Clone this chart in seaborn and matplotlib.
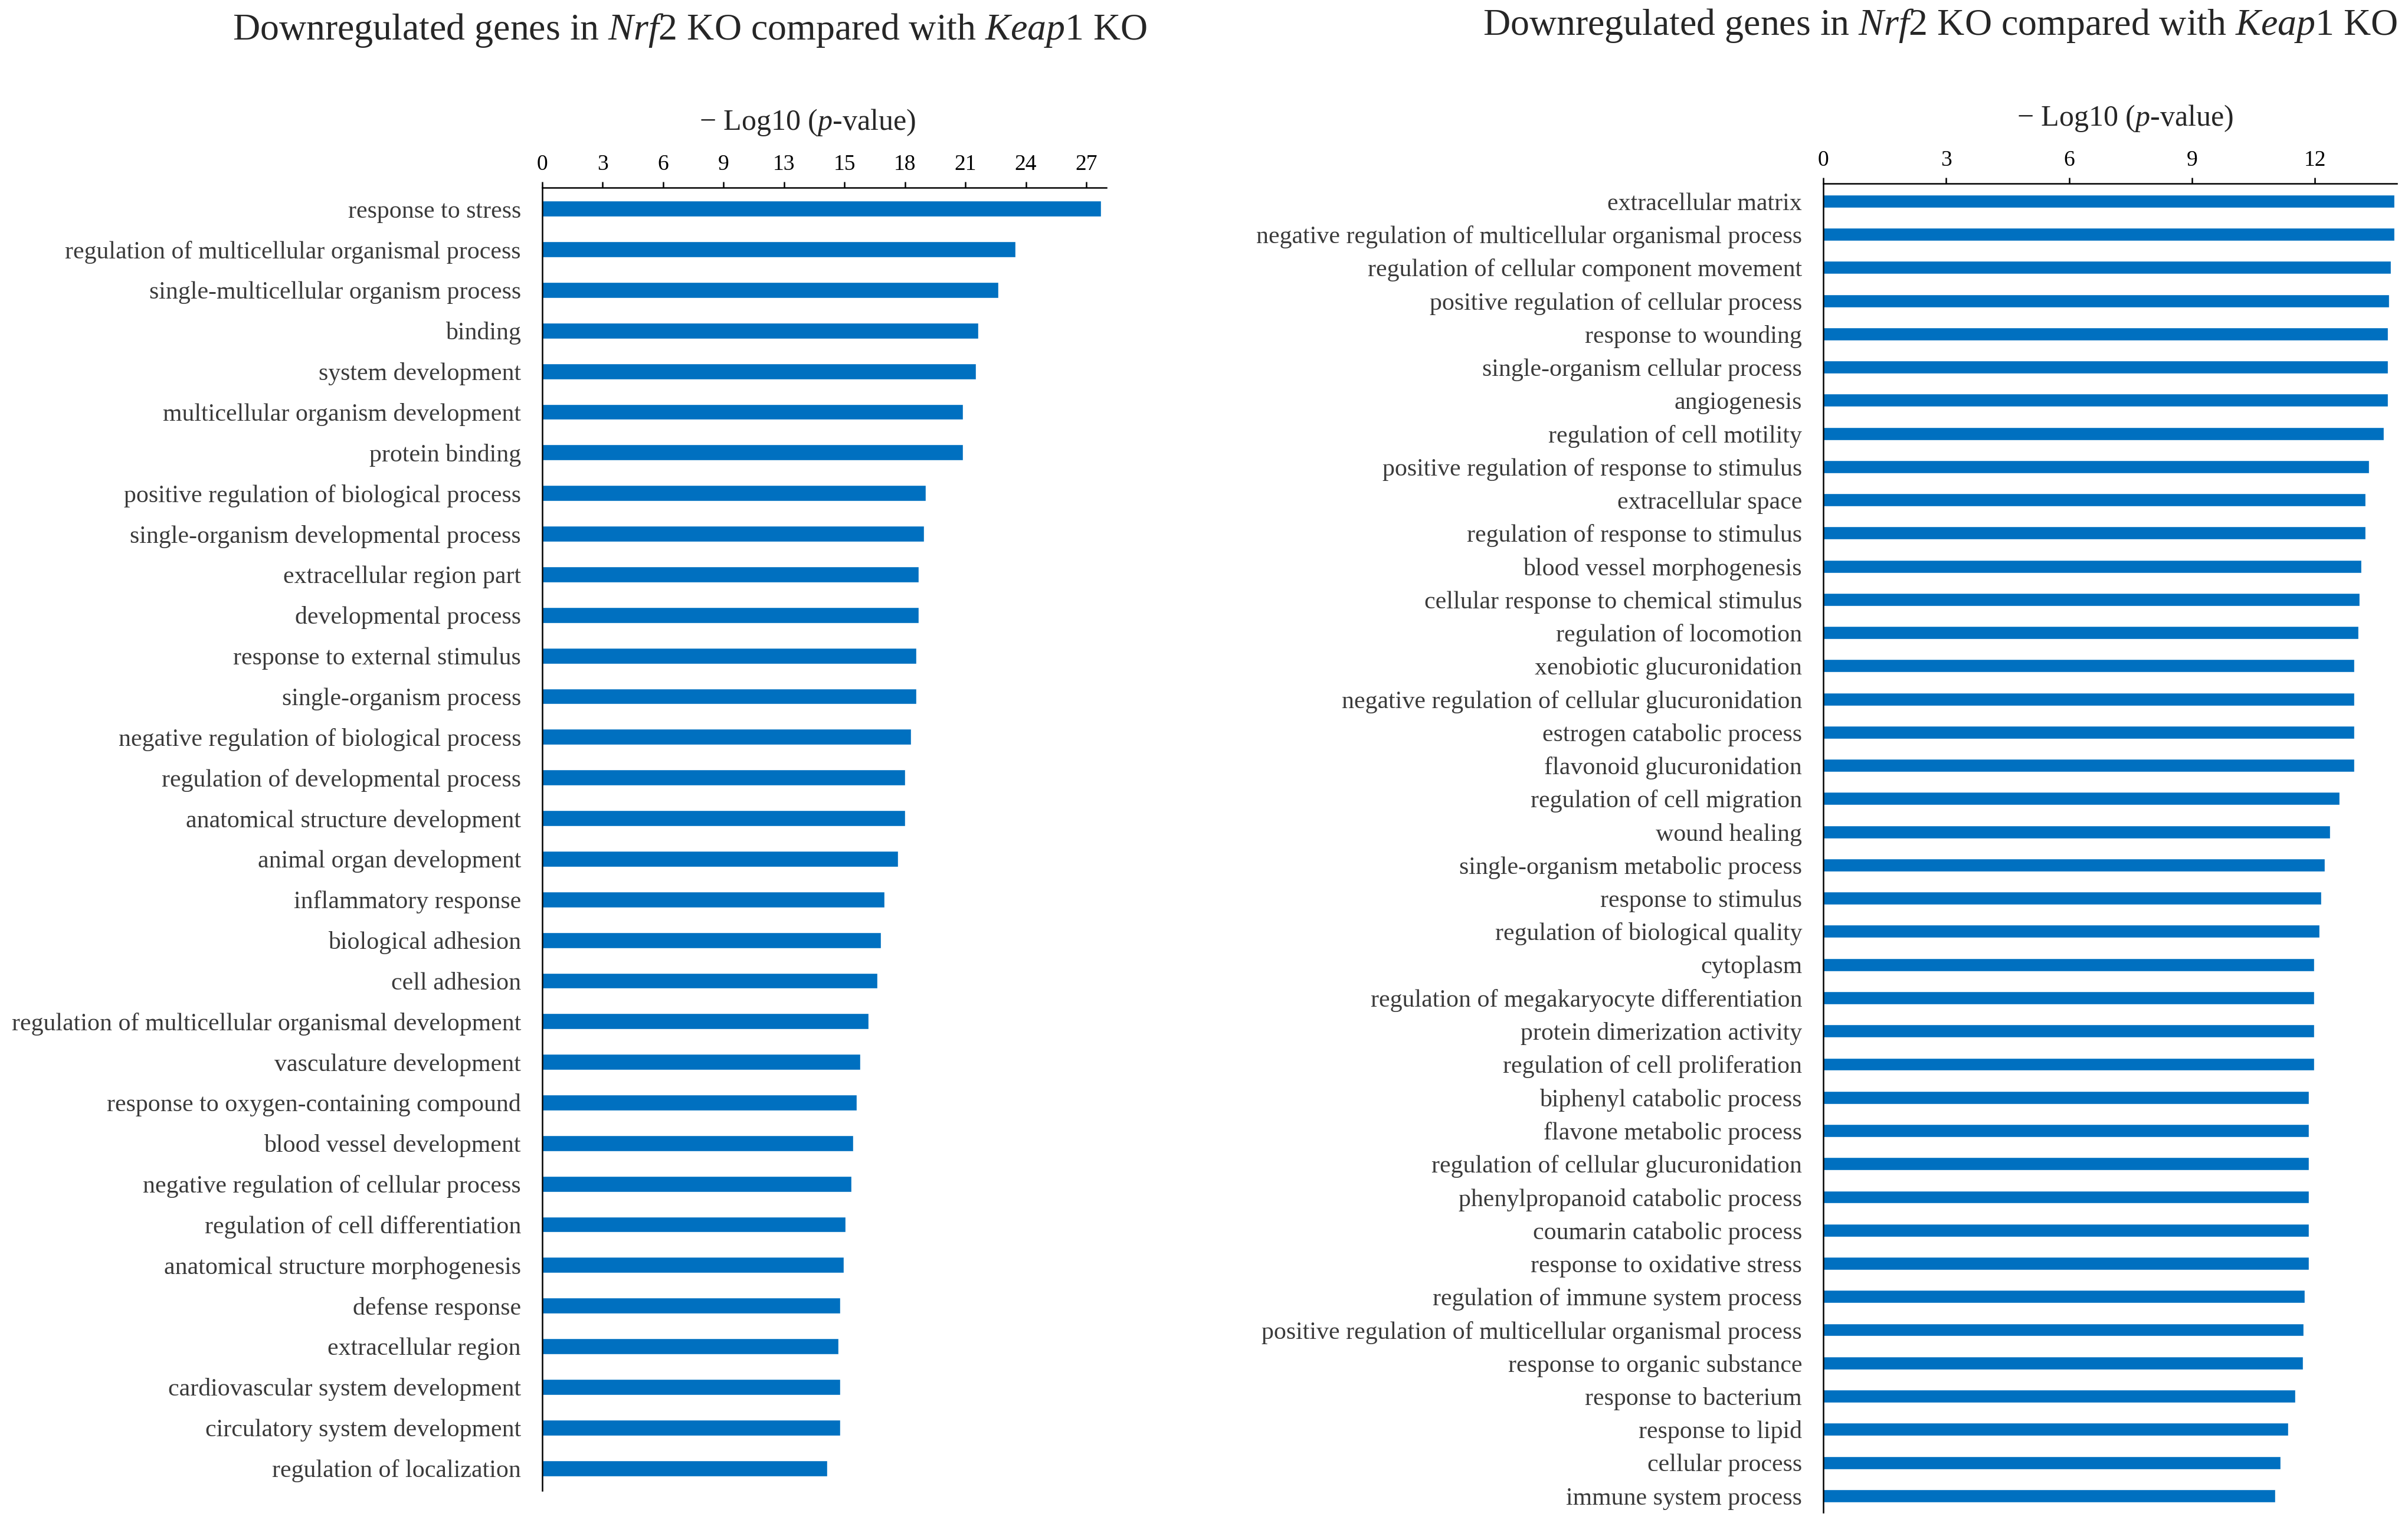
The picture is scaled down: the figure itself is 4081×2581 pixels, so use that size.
import pandas as pd
import matplotlib
matplotlib.use("Agg")
import matplotlib.pyplot as plt
import seaborn as sns

# Left panel data
left_terms = [
    "response to stress",
    "regulation of multicellular organismal process",
    "single-multicellular organism process",
    "binding",
    "system development",
    "multicellular organism development",
    "protein binding",
    "positive regulation of biological process",
    "single-organism developmental process",
    "extracellular region part",
    "developmental process",
    "response to external stimulus",
    "single-organism process",
    "negative regulation of biological process",
    "regulation of developmental process",
    "anatomical structure development",
    "animal organ development",
    "inflammatory response",
    "biological adhesion",
    "cell adhesion",
    "regulation of multicellular organismal development",
    "vasculature development",
    "response to oxygen-containing compound",
    "blood vessel development",
    "negative regulation of cellular process",
    "regulation of cell differentiation",
    "anatomical structure morphogenesis",
    "defense response",
    "extracellular region",
    "cardiovascular system development",
    "circulatory system development",
    "regulation of localization",
]
left_values = [
    27.72, 23.48, 22.64, 21.63, 21.53, 20.88, 20.88, 19.02, 18.94, 18.68,
    18.68, 18.57, 18.57, 18.29, 18.01, 18.01, 17.66, 16.99, 16.82, 16.64,
    16.18, 15.79, 15.62, 15.43, 15.34, 15.06, 14.96, 14.78, 14.69, 14.78,
    14.78, 14.13,
]
left_ticks = [0, 3, 6, 9, 12, 15, 18, 21, 24, 27]
left_ticklabels = ["0", "3", "6", "9", "13", "15", "18", "21", "24", "27"]

# Right panel data
right_terms = [
    "extracellular matrix",
    "negative regulation of multicellular organismal process",
    "regulation of cellular component movement",
    "positive regulation of cellular process",
    "response to wounding",
    "single-organism cellular process",
    "angiogenesis",
    "regulation of cell motility",
    "positive regulation of response to stimulus",
    "extracellular space",
    "regulation of response to stimulus",
    "blood vessel morphogenesis",
    "cellular response to chemical stimulus",
    "regulation of locomotion",
    "xenobiotic glucuronidation",
    "negative regulation of cellular glucuronidation",
    "estrogen catabolic process",
    "flavonoid glucuronidation",
    "regulation of cell migration",
    "wound healing",
    "single-organism metabolic process",
    "response to stimulus",
    "regulation of biological quality",
    "cytoplasm",
    "regulation of megakaryocyte differentiation",
    "protein dimerization activity",
    "regulation of cell proliferation",
    "biphenyl catabolic process",
    "flavone metabolic process",
    "regulation of cellular glucuronidation",
    "phenylpropanoid catabolic process",
    "coumarin catabolic process",
    "response to oxidative stress",
    "regulation of immune system process",
    "positive regulation of multicellular organismal process",
    "response to organic substance",
    "response to bacterium",
    "response to lipid",
    "cellular process",
    "immune system process",
]
right_values = [
    13.95, 13.95, 13.86, 13.81, 13.78, 13.78, 13.78, 13.69, 13.33, 13.24,
    13.24, 13.14, 13.10, 13.06, 12.96, 12.96, 12.96, 12.96, 12.61, 12.38,
    12.25, 12.16, 12.12, 11.99, 11.99, 11.99, 11.99, 11.85, 11.85, 11.85,
    11.85, 11.85, 11.85, 11.76, 11.72, 11.71, 11.53, 11.35, 11.16, 11.03,
]
right_ticks = [0, 3, 6, 9, 12]
right_ticklabels = ["0", "3", "6", "9", "12"]

title_text = r"Downregulated genes in $\mathit{Nrf}$2 KO compared with $\mathit{Keap1}$ KO"
xlabel_text = "\u2212 Log10 ($\\mathit{p}$-value)"

BAR_COLOR = "#0070C0"

sns.set_style("white")
plt.rcParams["font.family"] = ["Liberation Serif", "DejaVu Serif"]
plt.rcParams["mathtext.fontset"] = "custom"
plt.rcParams["mathtext.rm"] = "Liberation Serif"
plt.rcParams["mathtext.it"] = "Liberation Serif:italic"

fig = plt.figure(figsize=(40.81, 25.81), dpi=100)
ax1 = fig.add_axes([0.2252, 0.0213, 0.2343, 0.8555])
ax2 = fig.add_axes([0.7572, 0.0070, 0.2381, 0.8725])


def draw_panel(ax, terms, values, ticks, ticklabels, xmax, ylim, label_x):
    df = pd.DataFrame({"term": terms, "value": values})
    sns.barplot(data=df, x="value", y="term", orient="h", color=BAR_COLOR,
                saturation=1, width=0.39, ax=ax)
    ax.set_xlim(0, xmax)
    ax.set_ylim(*ylim)
    ax.xaxis.tick_top()
    ax.set_xticks(ticks)
    ax.set_xticklabels(ticklabels)
    ax.tick_params(axis="x", direction="out", length=7, width=1.8,
                   labelsize=27, pad=9, colors="black")
    ax.tick_params(axis="y", length=0, labelsize=30.2, pad=26,
                   labelcolor="#3a3a3a")
    ax.xaxis.set_label_position("top")
    ax.set_xlabel(xlabel_text, fontsize=36, labelpad=30)
    ax.xaxis.label.set_x(label_x)
    ax.set_ylabel("")
    for side in ["right", "bottom"]:
        ax.spines[side].set_visible(False)
    for side in ["top", "left"]:
        ax.spines[side].set_linewidth(1.8)
        ax.spines[side].set_color("black")


draw_panel(ax1, left_terms, left_values, left_ticks, left_ticklabels,
           28, (31.55, -0.52), 0.47)
draw_panel(ax2, right_terms, right_values, right_ticks, right_ticklabels,
           14, (39.5, -0.53), 0.526)

fig.text(0.2865, 0.9799, title_text, ha="center", va="center", fontsize=46)
fig.text(0.8057, 0.9830, title_text, ha="center", va="center", fontsize=46)

fig.savefig("out.png", dpi=100, facecolor="white")
plt.close(fig)
